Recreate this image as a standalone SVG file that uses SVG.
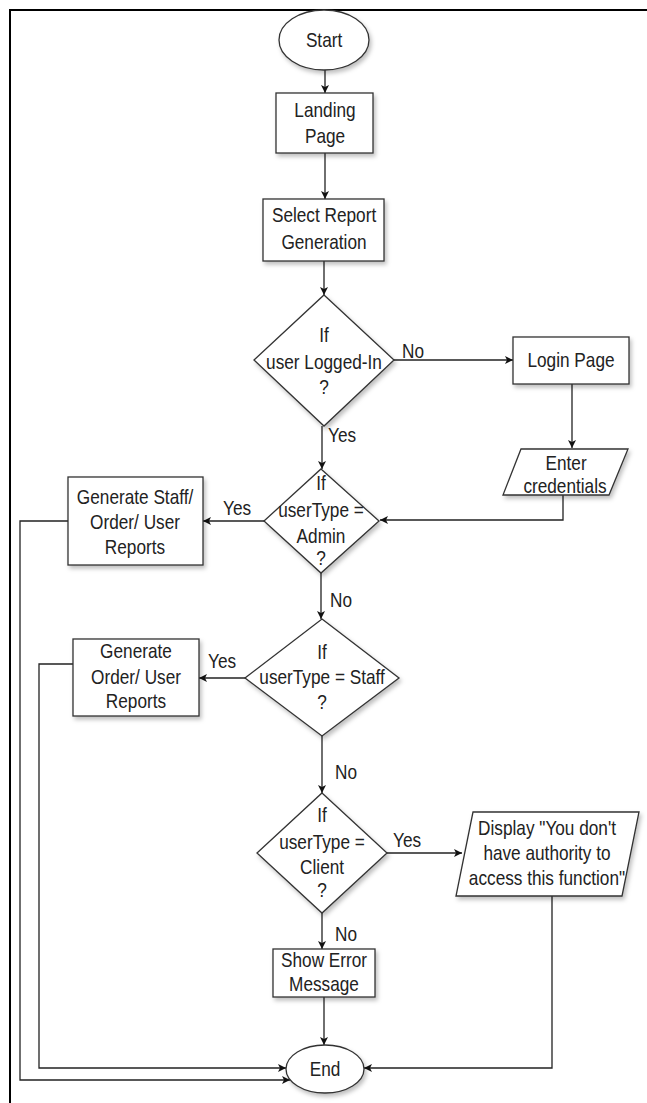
<svg xmlns="http://www.w3.org/2000/svg" width="647" height="1103" viewBox="0 0 647 1103">
  <style>
    .shape { fill: #ffffff; stroke: #333333; stroke-width: 1.3; filter: url(#shadow); }
    .lbl { font-family: "Liberation Sans", Arial, sans-serif; font-size: 21px; fill: #222222; text-anchor: middle;
           transform-box: fill-box; transform-origin: center; transform: scaleX(0.82); }
    .edge { font-family: "Liberation Sans", Arial, sans-serif; font-size: 21px; fill: #222222;
            transform-box: fill-box; transform-origin: left; transform: scaleX(0.82); }
    .wire { fill: none; stroke: #222222; stroke-width: 1.3; }
  </style>
  <defs>
    <marker id="arrow" viewBox="0 0 10 10" refX="10" refY="5" markerWidth="8" markerHeight="8" markerUnits="userSpaceOnUse" orient="auto">
      <path d="M0,0 L10,5 L0,10 L2.5,5 Z" fill="#111111"/>
    </marker>
    <filter id="shadow" x="-20%" y="-20%" width="150%" height="150%">
      <feDropShadow dx="2" dy="3" stdDeviation="2" flood-color="#000000" flood-opacity="0.25"/>
    </filter>
  </defs>

  <rect width="647" height="1103" fill="#ffffff"/>
  <!-- outer frame -->
  <path d="M10,1103 V10 H647" fill="none" stroke="#000000" stroke-width="2"/>

  <!-- connectors -->
  <g id="connectors">
    <path class="wire" d="M325,70 V93" marker-end="url(#arrow)"/>
    <path class="wire" d="M325,153 V199" marker-end="url(#arrow)"/>
    <path class="wire" d="M324,261 V295" marker-end="url(#arrow)"/>
    <path class="wire" d="M394,360 H513" marker-end="url(#arrow)"/>
    <path class="wire" d="M572,384 V448" marker-end="url(#arrow)"/>
    <path class="wire" d="M563,495 V520 H380" marker-end="url(#arrow)"/>
    <path class="wire" d="M322,426 V469" marker-end="url(#arrow)"/>
    <path class="wire" d="M264,521 H203" marker-end="url(#arrow)"/>
    <path class="wire" d="M321,573 V619" marker-end="url(#arrow)"/>
    <path class="wire" d="M245,678 H199" marker-end="url(#arrow)"/>
    <path class="wire" d="M322,736 V793" marker-end="url(#arrow)"/>
    <path class="wire" d="M387,853 H462" marker-end="url(#arrow)"/>
    <path class="wire" d="M322,913 V949" marker-end="url(#arrow)"/>
    <path class="wire" d="M324,997 V1045" marker-end="url(#arrow)"/>
    <path class="wire" d="M552,896 V1068 H364" marker-end="url(#arrow)"/>
    <path class="wire" d="M73,664 H39 V1068 H286" marker-end="url(#arrow)"/>
    <path class="wire" d="M68,521 H20 V1080 H290" marker-end="url(#arrow)"/>

    <text class="edge" x="402" y="358">No</text>
    <text class="edge" x="328" y="442">Yes</text>
    <text class="edge" x="223" y="515">Yes</text>
    <text class="edge" x="330" y="607">No</text>
    <text class="edge" x="208" y="668">Yes</text>
    <text class="edge" x="335" y="779">No</text>
    <text class="edge" x="393" y="847">Yes</text>
    <text class="edge" x="335" y="941">No</text>
  </g>

  <g id="start">
    <ellipse class="shape" cx="324" cy="40" rx="45" ry="30"/>
    <text class="lbl" x="324" y="47">Start</text>
  </g>

  <g id="landing">
    <rect class="shape" x="276" y="93" width="97" height="60"/>
    <text class="lbl" x="325" y="117">Landing</text>
    <text class="lbl" x="325" y="143">Page</text>
  </g>

  <g id="select-report">
    <rect class="shape" x="263" y="199" width="121" height="62"/>
    <text class="lbl" x="324" y="222">Select Report</text>
    <text class="lbl" x="324" y="249">Generation</text>
  </g>

  <g id="logged-in">
    <polygon class="shape" points="324,295 394,360 324,426 254,360"/>
    <text class="lbl" x="324" y="342">If</text>
    <text class="lbl" x="324" y="369">user Logged-In</text>
    <text class="lbl" x="324" y="394">?</text>
  </g>

  <g id="login-page">
    <rect class="shape" x="513" y="337" width="116" height="47"/>
    <text class="lbl" x="571" y="367">Login Page</text>
  </g>

  <g id="enter-credentials">
    <polygon class="shape" points="521,449 628,449 609,495 503,495"/>
    <text class="lbl" x="566" y="470">Enter</text>
    <text class="lbl" x="565" y="493">credentials</text>
  </g>

  <g id="is-admin">
    <polygon class="shape" points="321,469 379,521 321,573 264,521"/>
    <text class="lbl" x="321" y="490">If</text>
    <text class="lbl" x="321" y="517">userType =</text>
    <text class="lbl" x="321" y="543">Admin</text>
    <text class="lbl" x="321" y="565">?</text>
  </g>

  <g id="admin-reports">
    <rect class="shape" x="68" y="477" width="135" height="88"/>
    <text class="lbl" x="135" y="504">Generate Staff/</text>
    <text class="lbl" x="135" y="529">Order/ User</text>
    <text class="lbl" x="135" y="554">Reports</text>
  </g>

  <g id="is-staff">
    <polygon class="shape" points="322,619 399,678 322,736 245,678"/>
    <text class="lbl" x="322" y="659">If</text>
    <text class="lbl" x="322" y="684">userType = Staff</text>
    <text class="lbl" x="322" y="709">?</text>
  </g>

  <g id="staff-reports">
    <rect class="shape" x="73" y="639" width="126" height="77"/>
    <text class="lbl" x="136" y="658">Generate</text>
    <text class="lbl" x="136" y="684">Order/ User</text>
    <text class="lbl" x="136" y="708">Reports</text>
  </g>

  <g id="is-client">
    <polygon class="shape" points="322,793 387,853 322,913 257,853"/>
    <text class="lbl" x="322" y="822">If</text>
    <text class="lbl" x="322" y="849">userType =</text>
    <text class="lbl" x="322" y="874">Client</text>
    <text class="lbl" x="322" y="897">?</text>
  </g>

  <g id="no-authority">
    <polygon class="shape" points="473,812 639,812 622,896 456,896"/>
    <text class="lbl" x="547" y="835">Display "You don't</text>
    <text class="lbl" x="547" y="860">have authority to</text>
    <text class="lbl" x="547" y="885">access this function"</text>
  </g>

  <g id="show-error">
    <rect class="shape" x="273" y="949" width="102" height="48"/>
    <text class="lbl" x="324" y="967">Show Error</text>
    <text class="lbl" x="324" y="991">Message</text>
  </g>

  <g id="end">
    <ellipse class="shape" cx="325" cy="1069" rx="39" ry="24"/>
    <text class="lbl" x="325" y="1076">End</text>
  </g>
</svg>
